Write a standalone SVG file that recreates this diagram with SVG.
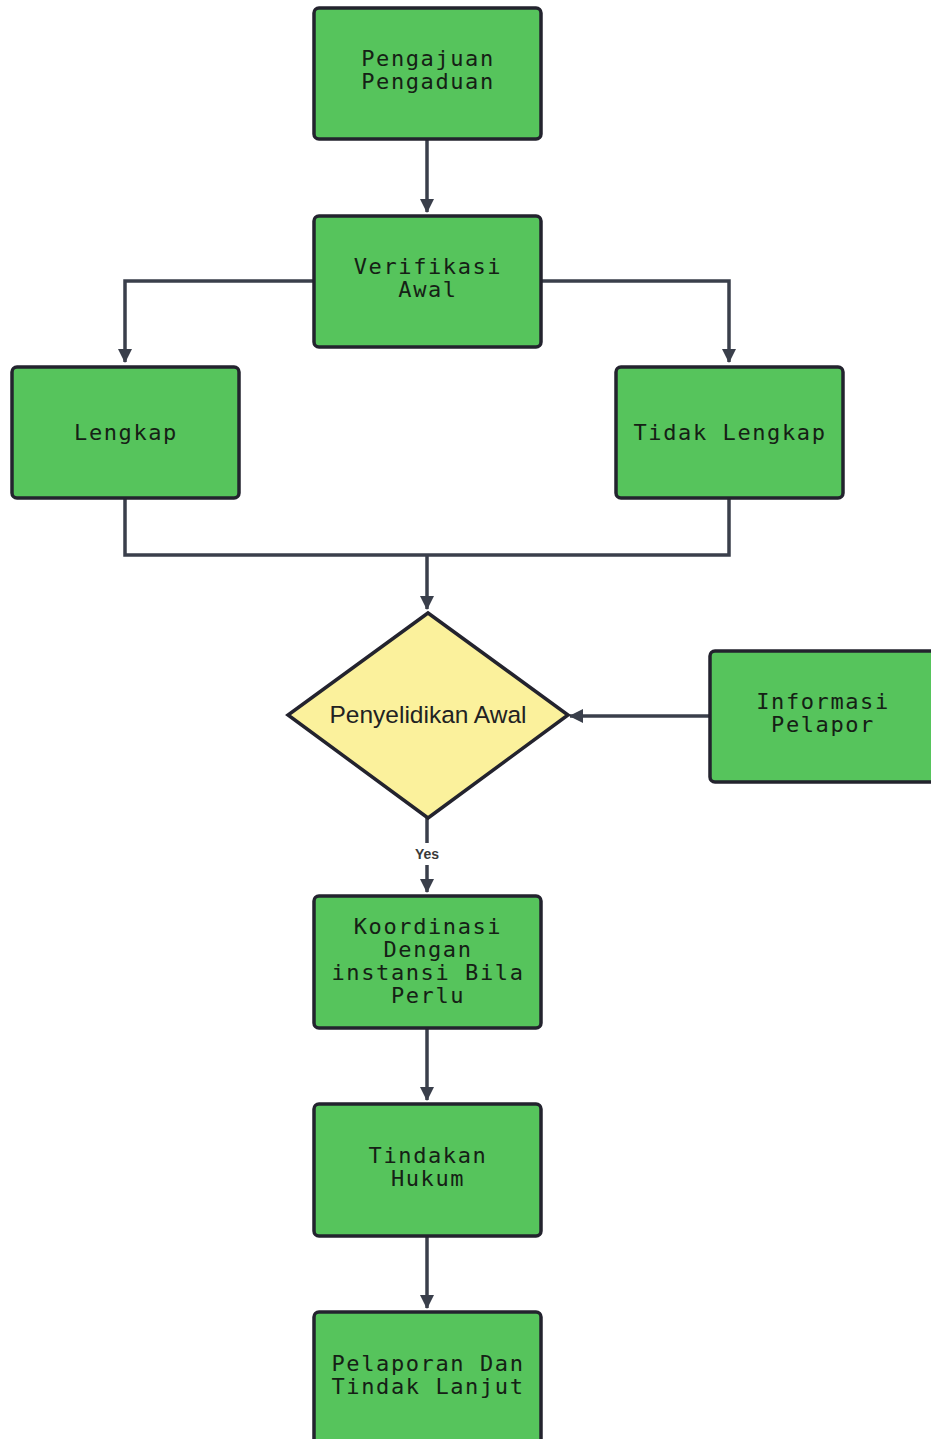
<svg xmlns="http://www.w3.org/2000/svg" width="931" height="1439" viewBox="0 0 931 1439">
<defs>
<marker id="arr" viewBox="0 0 14 14" refX="13" refY="7" markerWidth="14" markerHeight="14" markerUnits="userSpaceOnUse" orient="auto">
<path d="M0,0 L14,7 L0,14 Z" fill="#3a3f4b"/>
</marker>
<style>
.box{fill:#56c45c;stroke:#23232e;stroke-width:3.5}
.dia{fill:#fbf19c;stroke:#23232e;stroke-width:3.5}
.t{font-family:"DejaVu Sans Mono","Liberation Mono",monospace;font-size:22px;letter-spacing:1.6px;fill:#152015;text-anchor:middle}
.c{fill:none;stroke:#3a3f4b;stroke-width:3.5}
</style>
</defs>
<rect width="931" height="1439" fill="#ffffff"/>
<g id="connectors">
<path class="c" d="M427,139 V212" marker-end="url(#arr)"/>
<path class="c" d="M313,281 H125 V362" marker-end="url(#arr)"/>
<path class="c" d="M541,281 H729 V362" marker-end="url(#arr)"/>
<path class="c" d="M125,498 V555 H729 V498"/>
<path class="c" d="M427,555 V609" marker-end="url(#arr)"/>
<path class="c" d="M709,716 H570" marker-end="url(#arr)"/>
<path class="c" d="M427,818 V892" marker-end="url(#arr)"/>
<rect x="408" y="843" width="38" height="22" fill="#ffffff"/>
<text x="427" y="859" font-family="Liberation Sans,Arial,sans-serif" font-size="14" font-weight="bold" fill="#3a3a3a" text-anchor="middle">Yes</text>
<path class="c" d="M427,1028 V1100" marker-end="url(#arr)"/>
<path class="c" d="M427,1236 V1308" marker-end="url(#arr)"/>
</g>
<g id="pengajuan">
<rect class="box" x="314" y="8" width="227" height="131" rx="5"/>
<text class="t" x="428" y="66">Pengajuan</text>
<text class="t" x="428" y="89">Pengaduan</text>
</g>
<g id="verifikasi">
<rect class="box" x="314" y="216" width="227" height="131" rx="5"/>
<text class="t" x="428" y="274">Verifikasi</text>
<text class="t" x="428" y="297">Awal</text>
</g>
<g id="lengkap">
<rect class="box" x="12" y="367" width="227" height="131" rx="5"/>
<text class="t" x="126" y="440">Lengkap</text>
</g>
<g id="tidak-lengkap">
<rect class="box" x="616" y="367" width="227" height="131" rx="5"/>
<text class="t" x="730" y="440">Tidak Lengkap</text>
</g>
<g id="penyelidikan">
<polygon class="dia" points="428,613 568,715 428,818 288,715"/>
<text x="428" y="723" font-family="Liberation Sans,Arial,sans-serif" font-size="24.5" fill="#222222" text-anchor="middle">Penyelidikan Awal</text>
</g>
<g id="informasi">
<rect class="box" x="710" y="651" width="240" height="131" rx="5"/>
<text class="t" x="823" y="709">Informasi</text>
<text class="t" x="823" y="732">Pelapor</text>
</g>
<g id="koordinasi">
<rect class="box" x="314" y="896" width="227" height="132" rx="5"/>
<text class="t" x="428" y="934">Koordinasi</text>
<text class="t" x="428" y="957">Dengan</text>
<text class="t" x="428" y="980">instansi Bila</text>
<text class="t" x="428" y="1003">Perlu</text>
</g>
<g id="tindakan">
<rect class="box" x="314" y="1104" width="227" height="132" rx="5"/>
<text class="t" x="428" y="1163">Tindakan</text>
<text class="t" x="428" y="1186">Hukum</text>
</g>
<g id="pelaporan">
<rect class="box" x="314" y="1312" width="227" height="150" rx="5"/>
<text class="t" x="428" y="1371">Pelaporan Dan</text>
<text class="t" x="428" y="1394">Tindak Lanjut</text>
</g>
</svg>
